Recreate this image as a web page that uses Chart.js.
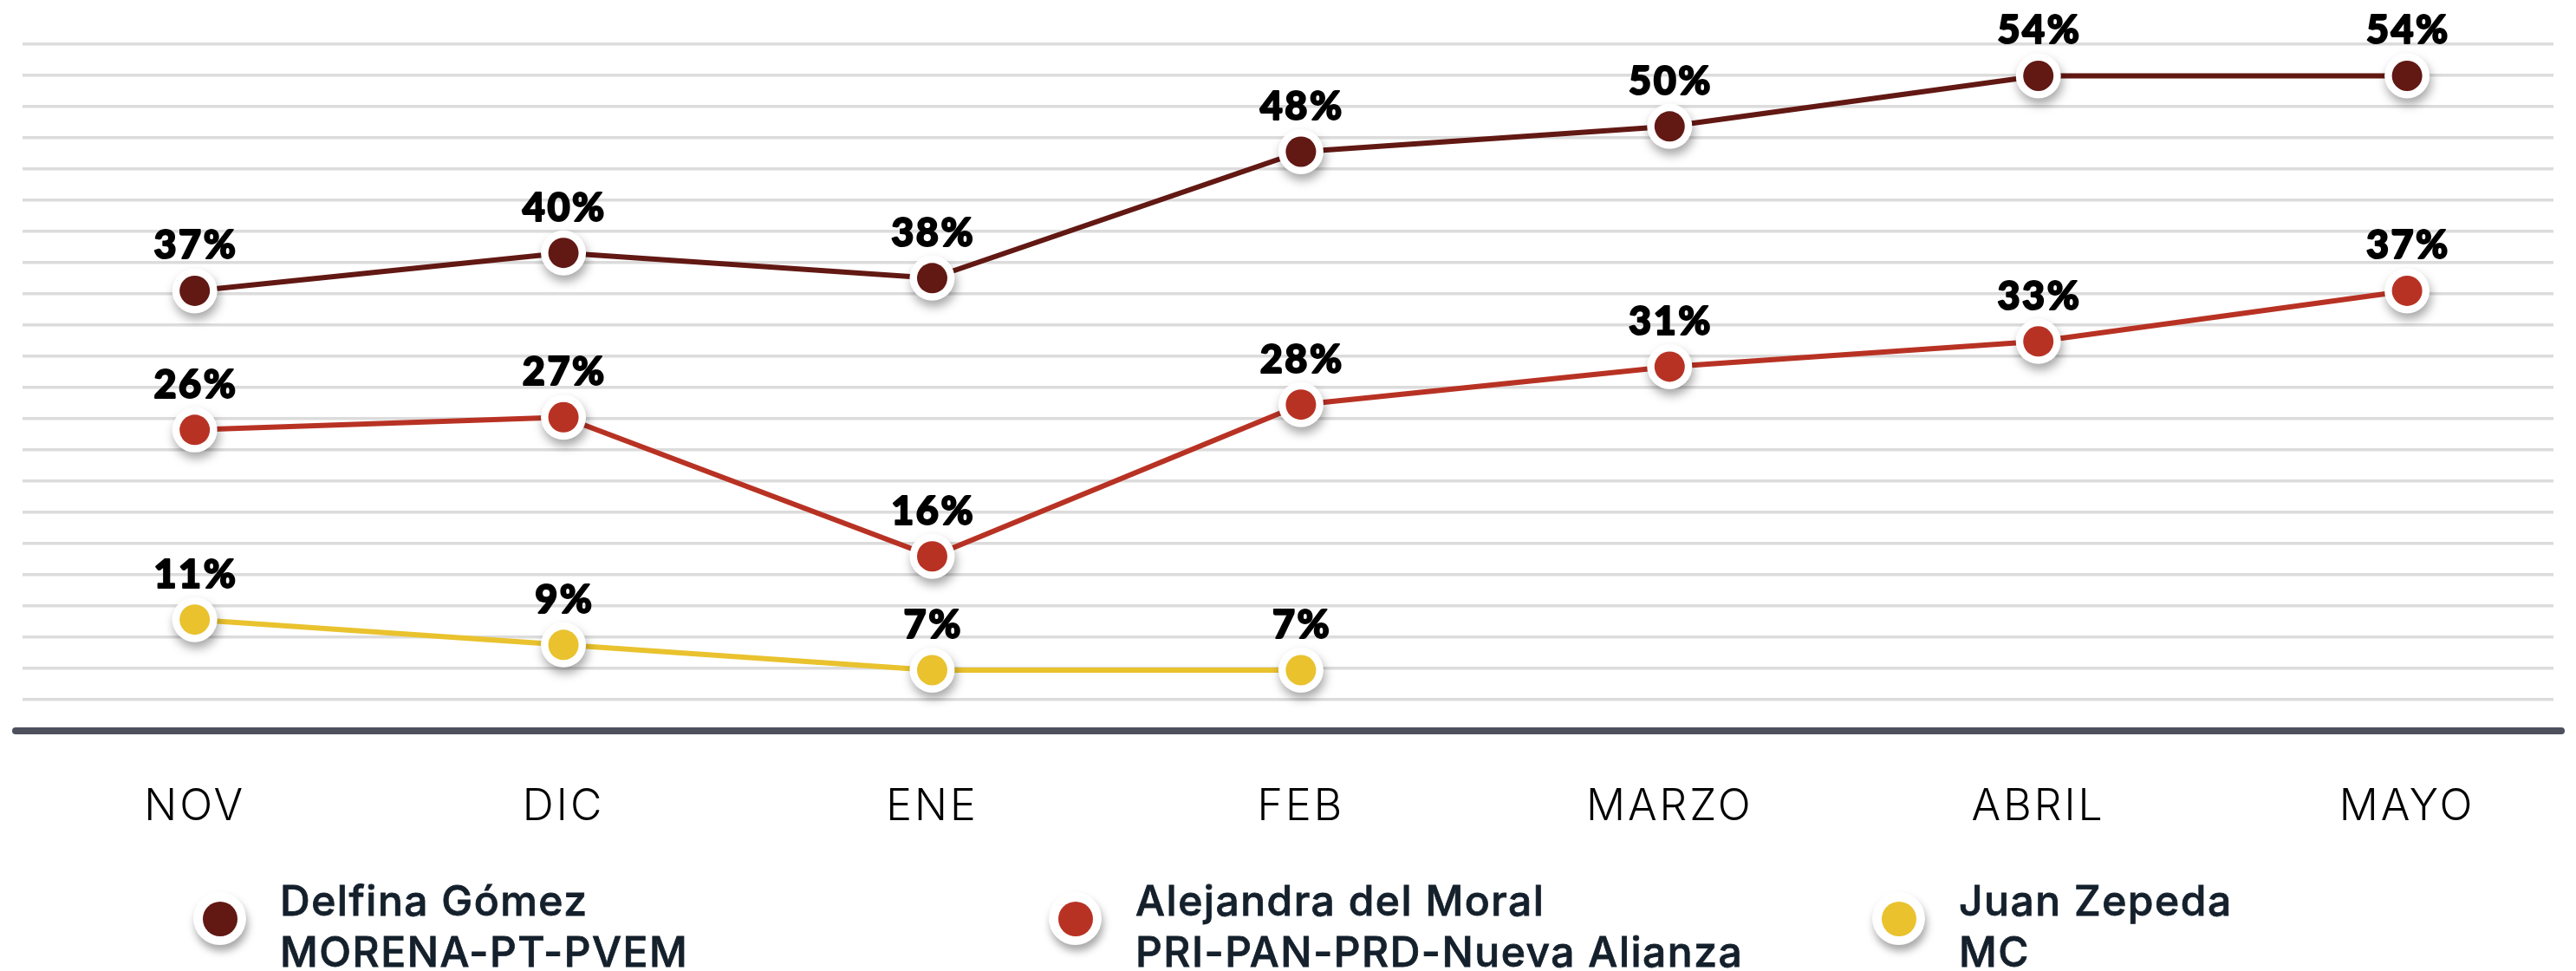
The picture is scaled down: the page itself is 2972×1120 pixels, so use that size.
<!DOCTYPE html>
<html><head><meta charset="utf-8">
<script src="https://cdn.jsdelivr.net/npm/chart.js@4/dist/chart.umd.min.js"></script>
<style>
html,body{margin:0;padding:0;background:#fff;}
#wrap{position:relative;width:2972px;height:1120px;overflow:hidden;background:#fff;}
#c{position:absolute;left:0;top:0;}
.item{position:absolute;top:1009px;display:flex;align-items:flex-start;}
.dot{position:relative;width:61px;height:61px;border-radius:50%;background:#fff;box-shadow:2px 7px 10px rgba(0,0,0,0.35);margin-top:20px;flex:none;}
.dot i{position:absolute;left:10.5px;top:10.5px;width:40px;height:40px;border-radius:50%;}
.txt{margin-left:39px;font-family:Inter,'Open Sans',sans-serif;font-weight:500;font-size:48px;line-height:59px;color:#14202b;white-space:nowrap;letter-spacing:1.5px;-webkit-text-stroke:0.8px #14202b;}
</style></head><body>
<div id="wrap"><canvas id="c" width="2972" height="1120"></canvas><div id="legend"></div></div>
<script>
const categories = ['NOV','DIC','ENE','FEB','MARZO','ABRIL','MAYO'];
const delfina    = [37, 40, 38, 48, 50, 54, 54];
const alejandra  = [26, 27, 16, 28, 31, 33, 37];
const juan       = [11, 9, 7, 7, null, null, null];
const names      = ['Delfina Gómez', 'Alejandra del Moral', 'Juan Zepeda'];
const coalitions = ['MORENA-PT-PVEM', 'PRI-PAN-PRD-Nueva Alianza', 'MC'];
const colors     = ['#621813', '#b83224', '#e9c22e'];

const series = [delfina, alejandra, juan];
const legendLeft = [223, 1210, 2160];

// legend (HTML text)
const leg = document.getElementById('legend');
names.forEach((n, s) => {
  const d = document.createElement('div');
  d.className = 'item';
  d.style.left = legendLeft[s] + 'px';
  d.innerHTML = '<span class="dot"><i style="background:' + colors[s] + '"></i></span><div class="txt"></div>';
  d.querySelector('.txt').innerHTML = n + '<br>' + coalitions[s];
  leg.appendChild(d);
});

function make() {
  const datasets = [];
  series.forEach((vals, s) => {
    const pts = vals.map((v, i) => ({x: i, y: v}));
    datasets.push({data: pts, borderColor: colors[s], borderWidth: 6, pointRadius: 0, order: 3, clip: false, tension: 0});
    datasets.push({data: pts, showLine: false, pointRadius: 26, pointBorderWidth: 0, pointBackgroundColor: '#fff', order: 2, clip: false, role: 'halo'});
    datasets.push({data: pts, showLine: false, pointRadius: 17.5, pointBorderWidth: 0, pointBackgroundColor: colors[s], order: 1, clip: false, role: 'dot'});
  });

  const spacing = {
    id: 'spacing',
    beforeDraw(chart) { chart.ctx.letterSpacing = '3px'; }
  };
  const shadow = {
    id: 'shadow',
    beforeDatasetDraw(chart, args) {
      if (chart.data.datasets[args.index].role === 'halo') {
        const c = chart.ctx; c.save();
        c.shadowColor = 'rgba(0,0,0,0.35)'; c.shadowBlur = 12; c.shadowOffsetX = 2; c.shadowOffsetY = 7;
      }
    },
    afterDatasetDraw(chart, args) {
      if (chart.data.datasets[args.index].role === 'halo') chart.ctx.restore();
    }
  };
  const axisLine = {
    id: 'axisLine',
    beforeDatasetsDraw(chart) {
      const a = chart.chartArea, c = chart.ctx;
      c.save(); c.lineCap = 'round'; c.lineWidth = 8; c.strokeStyle = '#4e505e';
      c.beginPath(); c.moveTo(a.left - 8, a.bottom); c.lineTo(a.right + 9, a.bottom); c.stroke(); c.restore();
    }
  };
  const labels = {
    id: 'labels',
    afterDatasetsDraw(chart) {
      const c = chart.ctx;
      c.save();
      c.font = '900 45px Lato, Inter, sans-serif';
      c.letterSpacing = '2.5px';
      c.fillStyle = '#000'; c.strokeStyle = '#000'; c.lineWidth = 2; c.lineJoin = 'round';
      c.textAlign = 'center'; c.textBaseline = 'alphabetic';
      chart.data.datasets.forEach((ds, k) => {
        if (ds.role !== 'dot') return;
        const meta = chart.getDatasetMeta(k);
        meta.data.forEach((el, i) => {
          const v = ds.data[i].y;
          if (v === null || v === undefined) return;
          c.fillText(v + '%', el.x + 1.25, el.y - 37);
          c.strokeText(v + '%', el.x + 1.25, el.y - 37);
        });
      });
      c.restore();
    }
  };

  new Chart(document.getElementById('c'), {
    type: 'line',
    data: {datasets},
    plugins: [spacing, shadow, axisLine, labels],
    options: {
      responsive: false, animation: false, devicePixelRatio: 1,
      layout: {padding: {left: 22, right: 19, top: 51, bottom: 0}},
      plugins: {legend: {display: false}, tooltip: {enabled: false}},
      scales: {
        x: {
          type: 'linear', min: -0.467, max: 6.397,
          grid: {display: false}, border: {display: false},
          afterBuildTicks: s => { s.ticks = categories.map((c, i) => ({value: i})); },
          ticks: {callback: v => categories[v], font: {family: 'Inter', size: 50, weight: '300'}, color: '#000', padding: 50, maxRotation: 0, autoSkip: false},
          afterFit: s => { s.height = 277; }
        },
        y: {
          min: 2.2, max: 56.5,
          afterBuildTicks: s => { const n = 22; s.ticks = []; for (let k = 1; k <= n; k++) s.ticks.push({value: s.min + k * (s.max - s.min) / n}); },
          ticks: {display: false},
          grid: {color: '#dcdcdc', lineWidth: 3.5, drawTicks: false},
          border: {display: false},
          afterFit: s => { s.width = 0; }
        }
      }
    }
  });
}
Promise.all([document.fonts.load('900 45px Lato'), document.fonts.load('300 50px Inter'), document.fonts.load('500 48px Inter')]).then(make, make);
</script>
</body></html>
